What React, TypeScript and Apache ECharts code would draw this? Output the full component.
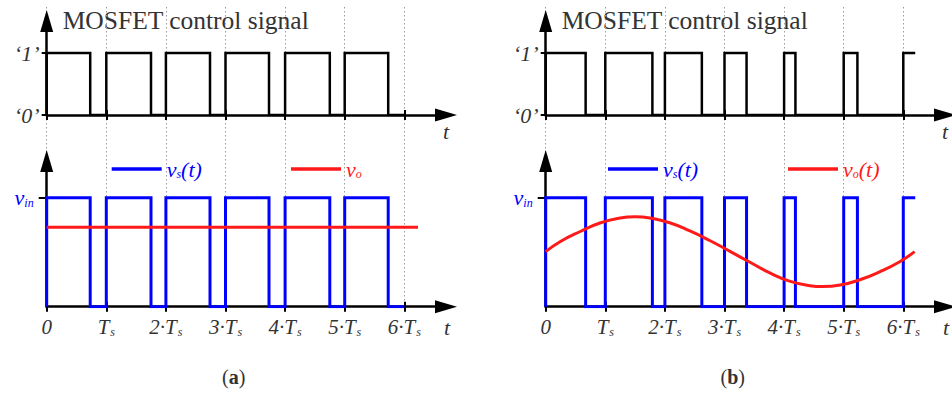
import React, { useEffect, useRef } from 'react';
import * as echarts from 'echarts';

// ---------- data ----------
const PERIOD_TICKS = [0, 1, 2, 3, 4, 5, 6];
const TICK_LABELS: [string, string][] = [
  ['0', ''], ['T', 's'], ['2·T', 's'], ['3·T', 's'], ['4·T', 's'], ['5·T', 's'], ['6·T', 's'],
];
// panel (a): constant duty cycle
const DUTY_A = [0.73, 0.75, 0.74, 0.73, 0.75, 0.73];
const END_A = 6;
const VO_A = 0.73;
const VO_A_SPAN = [0, 6.23];
// panel (b): modulated duty cycle
const DUTY_B = [0.67, 0.79, 0.62, 0.37, 0.19, 0.23];
const LAST_PULSE_B = [6, 6.2];
const VO_B_T = [0, 0.24, 0.58, 0.91, 1.25, 1.5, 1.75, 2.08, 2.42, 2.76, 3.1, 3.42, 3.76, 4.09, 4.43, 4.65, 4.94, 5.27, 5.61, 5.94, 6.19];
const VO_B_V = [0.505, 0.596, 0.69, 0.768, 0.814, 0.826, 0.814, 0.77, 0.695, 0.605, 0.505, 0.41, 0.31, 0.235, 0.193, 0.185, 0.199, 0.247, 0.322, 0.413, 0.505];
const LEVEL_TOP_LABELS = ['‘0’', '‘1’'];
const TITLE = 'MOSFET control signal';
const CAPTIONS = ['a', 'b'];
const LEGEND_NAMES = { vsA: 'vs_a', voA: 'vo_a', vsB: 'vs_b', voB: 'vo_b' };

// ---------- layout ----------
const FONT = 'Liberation Serif';
const PANEL_X = [46.7, 545.7];
const UNIT_X = 59.6;
const X_MAX = 6.7;
const W = UNIT_X * X_MAX;
const TOP = { y0: 115, unit: 62, top: 21 };
const BOT = { y0: 306.7, unit: 109, top: 161 };
const BLUE = '#0000ff';
const RED = '#ff1a1a';
const TXT = '#333';

function pulses(duties: number[], tail: number[][]) {
  const pts: number[][] = [];
  duties.forEach((d, i) => {
    pts.push([i, 0], [i, 1], [i + d, 1], [i + d, 0]);
  });
  tail.forEach((p) => pts.push(p));
  return pts;
}

export default function App() {
  const ref = useRef<HTMLDivElement>(null);
  useEffect(() => {
    if (!ref.current) return;
    const chart = echarts.init(ref.current, undefined, { renderer: 'svg' });

    const waveA = pulses(DUTY_A, [[END_A, 0]]);
    const waveB = pulses(DUTY_B, [[LAST_PULSE_B[0], 0], [LAST_PULSE_B[0], 1], [LAST_PULSE_B[1], 1]]);
    const voA = [[VO_A_SPAN[0], VO_A], [VO_A_SPAN[1], VO_A]];
    const voB = VO_B_T.map((t, i) => [t, VO_B_V[i]]);

    const topMax = (TOP.y0 - TOP.top) / TOP.unit;
    const botMax = (BOT.y0 - BOT.top) / BOT.unit;

    const grids: any[] = [
      { left: PANEL_X[0], top: 7, width: W, height: BOT.y0 - 7 },
      { left: PANEL_X[1], top: 7, width: W, height: BOT.y0 - 7 },
      { left: PANEL_X[0], top: TOP.top, width: W, height: TOP.y0 - TOP.top },
      { left: PANEL_X[0], top: BOT.top, width: W, height: BOT.y0 - BOT.top },
      { left: PANEL_X[1], top: TOP.top, width: W, height: TOP.y0 - TOP.top },
      { left: PANEL_X[1], top: BOT.top, width: W, height: BOT.y0 - BOT.top },
    ];

    const axisLineStyle = { color: '#000', width: 2.5 };
    const overlayX = (g: number) => ({
      type: 'value', gridIndex: g, position: 'bottom', min: 0, max: X_MAX, interval: 1, z: 0,
      axisLine: { show: false }, axisTick: { show: false }, axisLabel: { show: false },
      splitLine: { show: true, showMinLine: true, showMaxLine: false, lineStyle: { color: '#9a9a9a', width: 1, type: [1.5, 2.5] } },
    });
    const overlayY = (g: number) => ({ type: 'value', gridIndex: g, show: false, min: 0, max: 1 });
    const mainX = (g: number, labels: boolean) => ({
      type: 'value', gridIndex: g, position: 'bottom', min: 0, max: X_MAX, interval: 1, z: 3,
      axisLine: { show: true, onZero: false, symbol: ['none', 'triangle'], symbolSize: [13, 22], lineStyle: axisLineStyle },
      axisTick: { show: true, customValues: PERIOD_TICKS, length: 5, lineStyle: { color: '#000', width: 2 } },
      axisLabel: labels
        ? {
            show: true, customValues: PERIOD_TICKS, margin: 10,
            formatter: (v: number) => {
              const lab = TICK_LABELS[PERIOD_TICKS.indexOf(Math.round(v))];
              return lab[1] ? `{i|${lab[0]}}{s|${lab[1]}}` : `{i|${lab[0]}}`;
            },
            rich: {
              i: { fontFamily: FONT, fontStyle: 'italic', fontSize: 21, color: TXT },
              s: { fontFamily: FONT, fontStyle: 'italic', fontSize: 12, color: TXT, verticalAlign: 'bottom', padding: [0, 0, 0, 1] },
            },
          }
        : { show: false },
      splitLine: { show: false },
    });
    const innerX = (g: number) => ({
      type: 'value', gridIndex: g, position: 'bottom', min: 0, max: X_MAX, interval: 1, z: 3,
      axisLine: { show: false },
      axisTick: { show: true, inside: true, customValues: PERIOD_TICKS, length: 5, lineStyle: { color: '#000', width: 2 } },
      axisLabel: { show: false }, splitLine: { show: false },
    });
    const mainYTop = (g: number) => ({
      type: 'value', gridIndex: g, position: 'left', min: 0, max: topMax, interval: 1, z: 3,
      axisLine: { show: true, onZero: false, symbol: ['none', 'triangle'], symbolSize: [13, 22], lineStyle: axisLineStyle },
      axisTick: { show: true, customValues: [0, 1], length: 5, lineStyle: { color: '#000', width: 2 } },
      axisLabel: {
        show: true, customValues: [0, 1], margin: 7,
        formatter: (v: number) => LEVEL_TOP_LABELS[Math.round(v)],
        fontFamily: FONT, fontStyle: 'italic', fontSize: 22, color: TXT,
      },
      splitLine: { show: false },
    });
    const mainYBot = (g: number) => ({
      type: 'value', gridIndex: g, position: 'left', min: 0, max: botMax, interval: 1, z: 3,
      axisLine: { show: true, onZero: false, symbol: ['none', 'triangle'], symbolSize: [13, 22], lineStyle: axisLineStyle },
      axisTick: { show: true, customValues: [1], length: 8, lineStyle: { color: '#000', width: 2 } },
      axisLabel: {
        show: true, customValues: [1], margin: 13,
        formatter: () => '{v|v}{sub|in}',
        rich: {
          v: { fontFamily: FONT, fontStyle: 'italic', fontSize: 22, color: BLUE },
          sub: { fontFamily: FONT, fontStyle: 'italic', fontSize: 12, color: BLUE, verticalAlign: 'bottom' },
        },
      },
      splitLine: { show: false },
    });

    const xAxis = [
      overlayX(0), overlayX(1),
      mainX(2, false), mainX(3, true), mainX(4, false), mainX(5, true),
      innerX(2), innerX(3), innerX(4), innerX(5),
    ];
    const yAxis = [overlayY(0), overlayY(1), mainYTop(2), mainYBot(3), mainYTop(4), mainYBot(5)];

    const lineSeries = (name: string, xi: number, data: number[][], color: string, width: number, smooth: any = false) => ({
      type: 'line', name, xAxisIndex: xi, yAxisIndex: xi, data, showSymbol: false, symbol: 'none', smooth,
      z: 4, color,
      lineStyle: { color, width, cap: 'butt', join: 'miter' },
    });

    const series = [
      lineSeries('ctrl_a', 2, waveA, '#000', 2.5),
      lineSeries(LEGEND_NAMES.vsA, 3, waveA, BLUE, 3),
      lineSeries(LEGEND_NAMES.voA, 3, voA, RED, 3),
      lineSeries('ctrl_b', 4, waveB, '#000', 2.5),
      lineSeries(LEGEND_NAMES.vsB, 5, waveB, BLUE, 3),
      lineSeries(LEGEND_NAMES.voB, 5, voB, RED, 3, 0.5),
    ];

    const legendText: Record<string, string> = {
      [LEGEND_NAMES.vsA]: '{v|v}{sub|s}{v|(t)}',
      [LEGEND_NAMES.voA]: '{v|v}{sub|o}',
      [LEGEND_NAMES.vsB]: '{v|v}{sub|s}{v|(t)}',
      [LEGEND_NAMES.voB]: '{v|v}{sub|o}{v|(t)}',
    };
    const mkLegend = (name: string, left: number, color: string) => ({
      data: [name], left, top: 158, padding: 0, icon: 'rect', itemWidth: 50, itemHeight: 3.5,
      selectedMode: false,
      formatter: (n: string) => legendText[n],
      textStyle: {
        color,
        rich: {
          v: { fontFamily: FONT, fontStyle: 'italic', fontSize: 22, color },
          sub: { fontFamily: FONT, fontStyle: 'italic', fontSize: 12, color, verticalAlign: 'bottom' },
        },
      },
    });

    const graphic: any[] = [];
    PANEL_X.forEach((px, k) => {
      graphic.push({
        type: 'text', x: px + 16, y: 20,
        style: { text: TITLE, fontFamily: FONT, fontSize: 25.5, fill: TXT, align: 'left', verticalAlign: 'middle' },
      });
      graphic.push({
        type: 'text', x: px + W, y: 131,
        style: { text: 't', fontFamily: FONT, fontStyle: 'italic', fontSize: 22, fill: TXT, align: 'center', verticalAlign: 'middle' },
      });
      graphic.push({
        type: 'text', x: px + W + 1, y: 327,
        style: { text: 't', fontFamily: FONT, fontStyle: 'italic', fontSize: 22, fill: TXT, align: 'center', verticalAlign: 'middle' },
      });
      graphic.push({
        type: 'text', x: px + 187, y: 377,
        style: {
          text: `{n|(}{b|${CAPTIONS[k]}}{n|)}`, align: 'center', verticalAlign: 'middle',
          rich: {
            n: { fontFamily: FONT, fontSize: 20, fill: TXT, color: TXT },
            b: { fontFamily: FONT, fontSize: 20, fontWeight: 'bold', fill: TXT, color: TXT },
          },
        },
      });
    });

    chart.setOption({
      animation: false,
      backgroundColor: '#fff',
      grid: grids,
      xAxis,
      yAxis,
      series,
      legend: [
        mkLegend(LEGEND_NAMES.vsA, 111.7, BLUE),
        mkLegend(LEGEND_NAMES.voA, 291, RED),
        mkLegend(LEGEND_NAMES.vsB, 608, BLUE),
        mkLegend(LEGEND_NAMES.voB, 788, RED),
      ],
      graphic,
    });
    return () => chart.dispose();
  }, []);
  return <div ref={ref} style={{ position: 'fixed', left: 0, top: 0, width: 952, height: 394 }} />;
}
